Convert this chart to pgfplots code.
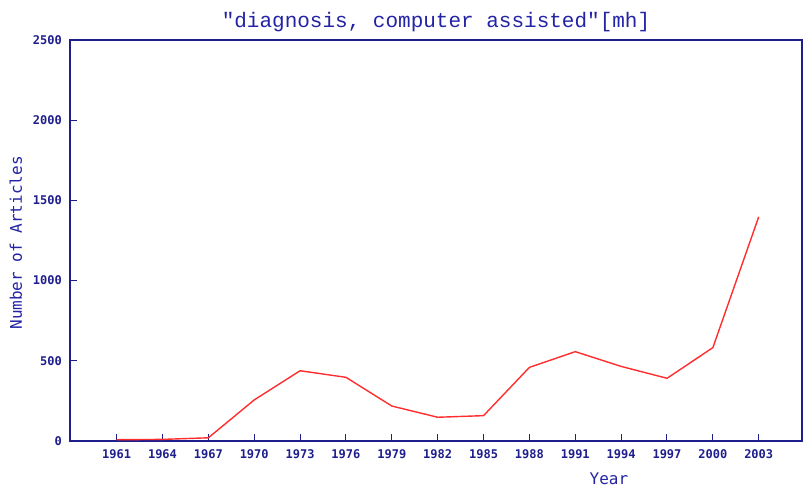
\documentclass[border=0pt]{standalone}
\usepackage{fontspec}
\setmainfont{DejaVu Sans Mono}
\newfontfamily\titlefont{Liberation Mono}
\usepackage{pgfplots}
\pgfplotsset{compat=1.18}
\definecolor{navy}{RGB}{30,30,140}
\definecolor{ttl}{RGB}{35,35,165}
\definecolor{lred}{RGB}{255,45,45}
\begin{document}
\begin{tikzpicture}[x=1pt,y=1pt]
\useasboundingbox (-70,-54) rectangle (739,441);
\begin{axis}[
 scale only axis, width=732pt, height=401pt,
 xmin=1957.95, xmax=2005.83, ymin=0, ymax=2500,
 axis line style={navy, line width=1.2pt},
 xtick={1961,1964,...,2003}, ytick={0,500,...,2500},
 tick style={navy, line width=1pt},
 major tick length=7pt,
 tick align=inside,
 xtick pos=bottom, ytick pos=left,
 /pgf/number format/assume math mode=true,
 /pgf/number format/set thousands separator={},
 ticklabel style={font=\fontsize{12}{14}\selectfont\bfseries, text=navy},
 xticklabel style={anchor=center, inner sep=0pt, yshift=-13pt},
 yticklabel style={anchor=east, inner sep=0pt, xshift=-8pt},
 title={"diagnosis, computer assisted"[mh]},
 title style={font=\titlefont\fontsize{21}{24}\selectfont, text=ttl, at={(axis description cs:0.5,1.030)}, anchor=center, inner sep=0pt},
 xlabel={Year},
 xlabel style={font=\fontsize{16}{18}\selectfont, text=ttl, at={(axis description cs:0.7363,-0.0948)}, anchor=center, inner sep=0pt},
 ylabel={Number of Articles},
 ylabel style={font=\fontsize{16}{18}\selectfont, text=ttl, at={(axis description cs:-0.0738,0.494)}, anchor=center, rotate=0, inner sep=0pt},
]
\addplot[lred, line width=1.4pt] coordinates {
 (1961,8) (1964,10) (1967,20) (1970,256) (1973,438) (1976,397)
 (1979,218) (1982,148) (1985,158) (1988,459) (1991,557) (1994,465)
 (1997,391) (2000,582) (2003,1398)
};
\end{axis}
\end{tikzpicture}
\end{document}
